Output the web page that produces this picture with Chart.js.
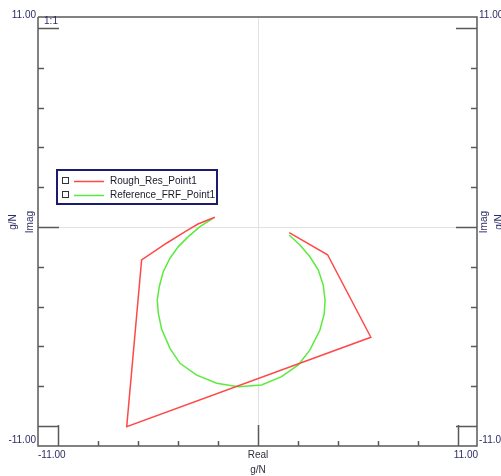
<!DOCTYPE html>
<html>
<head>
<meta charset="utf-8">
<script src="https://cdn.jsdelivr.net/npm/chart.js@4/dist/chart.umd.min.js"></script>
<style>
html,body{margin:0;padding:0;background:#fff;}
canvas{display:block;}
</style>
</head>
<body>
<canvas id="c" width="501" height="476"></canvas>
<script>
// ---- data ----
const seriesNames = ['Rough_Res_Point1', 'Reference_FRF_Point1'];
const redReal = [1.72, 3.83, 6.21, -7.22, -6.40, -5.01, -3.96, -3.30, -2.37];
const redImag = [-0.31, -1.53, -6.09, -11.03, -1.82, -0.88, -0.22, 0.17, 0.54];
const greenReal = [-2.46, -3.19, -3.83, -4.38, -4.84, -5.21, -5.43, -5.54, -5.48, -5.30, -4.84, -4.29, -3.37, -2.27, -1.08, 0.20, 1.30, 2.22, 2.86, 3.41, 3.65, 3.69, 3.59, 3.32, 2.86, 2.31, 1.72];
const greenImag = [0.49, 0.02, -0.53, -1.08, -1.72, -2.47, -3.30, -4.03, -4.77, -5.63, -6.70, -7.53, -8.18, -8.63, -8.82, -8.73, -8.27, -7.62, -6.79, -5.69, -4.77, -4.03, -3.20, -2.38, -1.64, -0.99, -0.44];
const xTickValues = [-11, -8.8, -6.6, -4.4, -2.2, 0, 2.2, 4.4, 6.6, 8.8, 11];
const yTickValues = [-11, -8.8, -6.6, -4.4, -2.2, 0, 2.2, 4.4, 6.6, 8.8, 11];
const longTickValues = [-11, 0, 11];
const xEndLabels = ['-11.00', '11.00'];
const yEndLabels = ['-11.00', '11.00'];
const axisTitles = {x: 'Real', y: 'Imag', unit: 'g/N', ratio: '1:1'};

const toPts = (xs, ys) => xs.map((v, i) => ({x: v, y: ys[i]}));

const RED = 'rgb(255,72,72)';
const GREEN = 'rgb(90,235,60)';
const AXIS = '#5a5a5a';
const LABEL = '#2c2c66';
const FONT = '10px "Liberation Sans", Arial, sans-serif';

const framePlugin = {
  id: 'frame',
  beforeDatasetsDraw(chart) {
    const {ctx, chartArea: a, scales: {x, y}} = chart;
    ctx.save();
    ctx.strokeStyle = '#e2e2e2';
    ctx.lineWidth = 1;
    const px = Math.round(x.getPixelForValue(0)) + 0.5;
    const py = Math.round(y.getPixelForValue(0)) + 0.5;
    ctx.beginPath();
    ctx.moveTo(px, a.top); ctx.lineTo(px, a.bottom);
    ctx.moveTo(a.left, py); ctx.lineTo(a.right, py);
    ctx.stroke();
    ctx.restore();
  },
  afterDatasetsDraw(chart) {
    const {ctx, chartArea: a, scales: {x, y}} = chart;
    ctx.save();
    ctx.strokeStyle = AXIS;
    ctx.lineWidth = 1.5;
    // frame (left, right, bottom, top)
    ctx.beginPath();
    ctx.moveTo(a.left, a.top); ctx.lineTo(a.left, a.bottom); ctx.lineTo(a.right, a.bottom); ctx.lineTo(a.right, a.top); ctx.lineTo(a.left, a.top);
    ctx.stroke();
    // y ticks on left and right
    ctx.beginPath();
    yTickValues.forEach(v => {
      const p = Math.round(y.getPixelForValue(v)) + 0.5;
      const len = longTickValues.includes(v) ? 21 : 6;
      ctx.moveTo(a.left, p); ctx.lineTo(a.left + len, p);
      ctx.moveTo(a.right, p); ctx.lineTo(a.right - len, p);
    });
    // x ticks on bottom
    xTickValues.forEach(v => {
      const p = Math.round(x.getPixelForValue(v)) + 0.5;
      const len = longTickValues.includes(v) ? 21 : 5;
      ctx.moveTo(p, a.bottom); ctx.lineTo(p, a.bottom - len);
    });
    ctx.stroke();

    // labels
    ctx.font = FONT;
    ctx.fillStyle = LABEL;
    ctx.textBaseline = 'middle';
    // left axis end labels
    ctx.textAlign = 'right';
    ctx.fillText(yEndLabels[1], a.left - 2, a.top - 2);
    ctx.fillText(yEndLabels[0], a.left - 2, y.getPixelForValue(-11) + 14);
    // right axis end labels
    ctx.textAlign = 'left';
    ctx.fillText(yEndLabels[1], a.right + 2, a.top - 2);
    ctx.fillText(yEndLabels[0], a.right + 2, y.getPixelForValue(-11) + 14);
    // bottom axis end labels
    ctx.textAlign = 'left';
    ctx.fillText(xEndLabels[0], a.left, a.bottom + 9);
    ctx.textAlign = 'right';
    ctx.fillText(xEndLabels[1], a.right + 1, a.bottom + 9);
    // 1:1
    ctx.textAlign = 'center';
    ctx.fillText(axisTitles.ratio, a.left + 13, a.top + 4);

    // axis titles
    ctx.fillStyle = '#303040';
    const cx = x.getPixelForValue(0);
    ctx.fillText(axisTitles.x, cx, a.bottom + 9);
    ctx.fillText(axisTitles.unit, cx, a.bottom + 24);
    const cy = y.getPixelForValue(0) - 5;
    [[30, axisTitles.y], [13, axisTitles.unit], [484, axisTitles.y], [499, axisTitles.unit]].forEach(([tx, t]) => {
      ctx.save();
      ctx.translate(tx, cy);
      ctx.rotate(-Math.PI / 2);
      ctx.fillStyle = LABEL;
      ctx.textAlign = 'center';
      ctx.fillText(t, 0, 0);
      ctx.restore();
    });
    ctx.restore();
  },
  afterDraw(chart) {
    const {ctx} = chart;
    ctx.save();
    // legend box
    ctx.fillStyle = '#fff';
    ctx.fillRect(57, 170, 160, 34);
    ctx.strokeStyle = '#1c1c6e';
    ctx.lineWidth = 2;
    ctx.strokeRect(57, 170, 160, 34);
    const rows = [181, 195];
    const cols = [RED, GREEN];
    ctx.font = FONT;
    ctx.textBaseline = 'middle';
    ctx.textAlign = 'left';
    seriesNames.forEach((n, i) => {
      const ry = rows[i];
      ctx.strokeStyle = '#333';
      ctx.lineWidth = 1;
      ctx.strokeRect(62.5, ry - 3.5, 6, 6);
      ctx.strokeStyle = cols[i];
      ctx.lineWidth = 1.5;
      ctx.beginPath();
      ctx.moveTo(74, ry + 0.5); ctx.lineTo(104, ry + 0.5);
      ctx.stroke();
      ctx.fillStyle = '#1a1a2a';
      ctx.fillText(n, 110, ry + 0.5);
    });
    ctx.restore();
  }
};

new Chart(document.getElementById('c'), {
  type: 'scatter',
  data: {
    datasets: [
      {label: seriesNames[0], data: toPts(redReal, redImag), showLine: true, borderColor: RED, backgroundColor: RED, borderWidth: 1.5, pointRadius: 0, tension: 0},
      {label: seriesNames[1], data: toPts(greenReal, greenImag), showLine: true, borderColor: GREEN, backgroundColor: GREEN, borderWidth: 1.5, pointRadius: 0, tension: 0}
    ]
  },
  options: {
    responsive: false,
    animation: false,
    devicePixelRatio: 1,
    layout: {padding: {left: 38, right: 24, top: 17, bottom: 30}},
    plugins: {legend: {display: false}, tooltip: {enabled: false}, title: {display: false}},
    scales: {
      x: {type: 'linear', min: -12.1, max: 12.05, display: false},
      y: {type: 'linear', min: -12.1, max: 11.61, display: false}
    }
  },
  plugins: [framePlugin]
});
</script>
</body>
</html>
